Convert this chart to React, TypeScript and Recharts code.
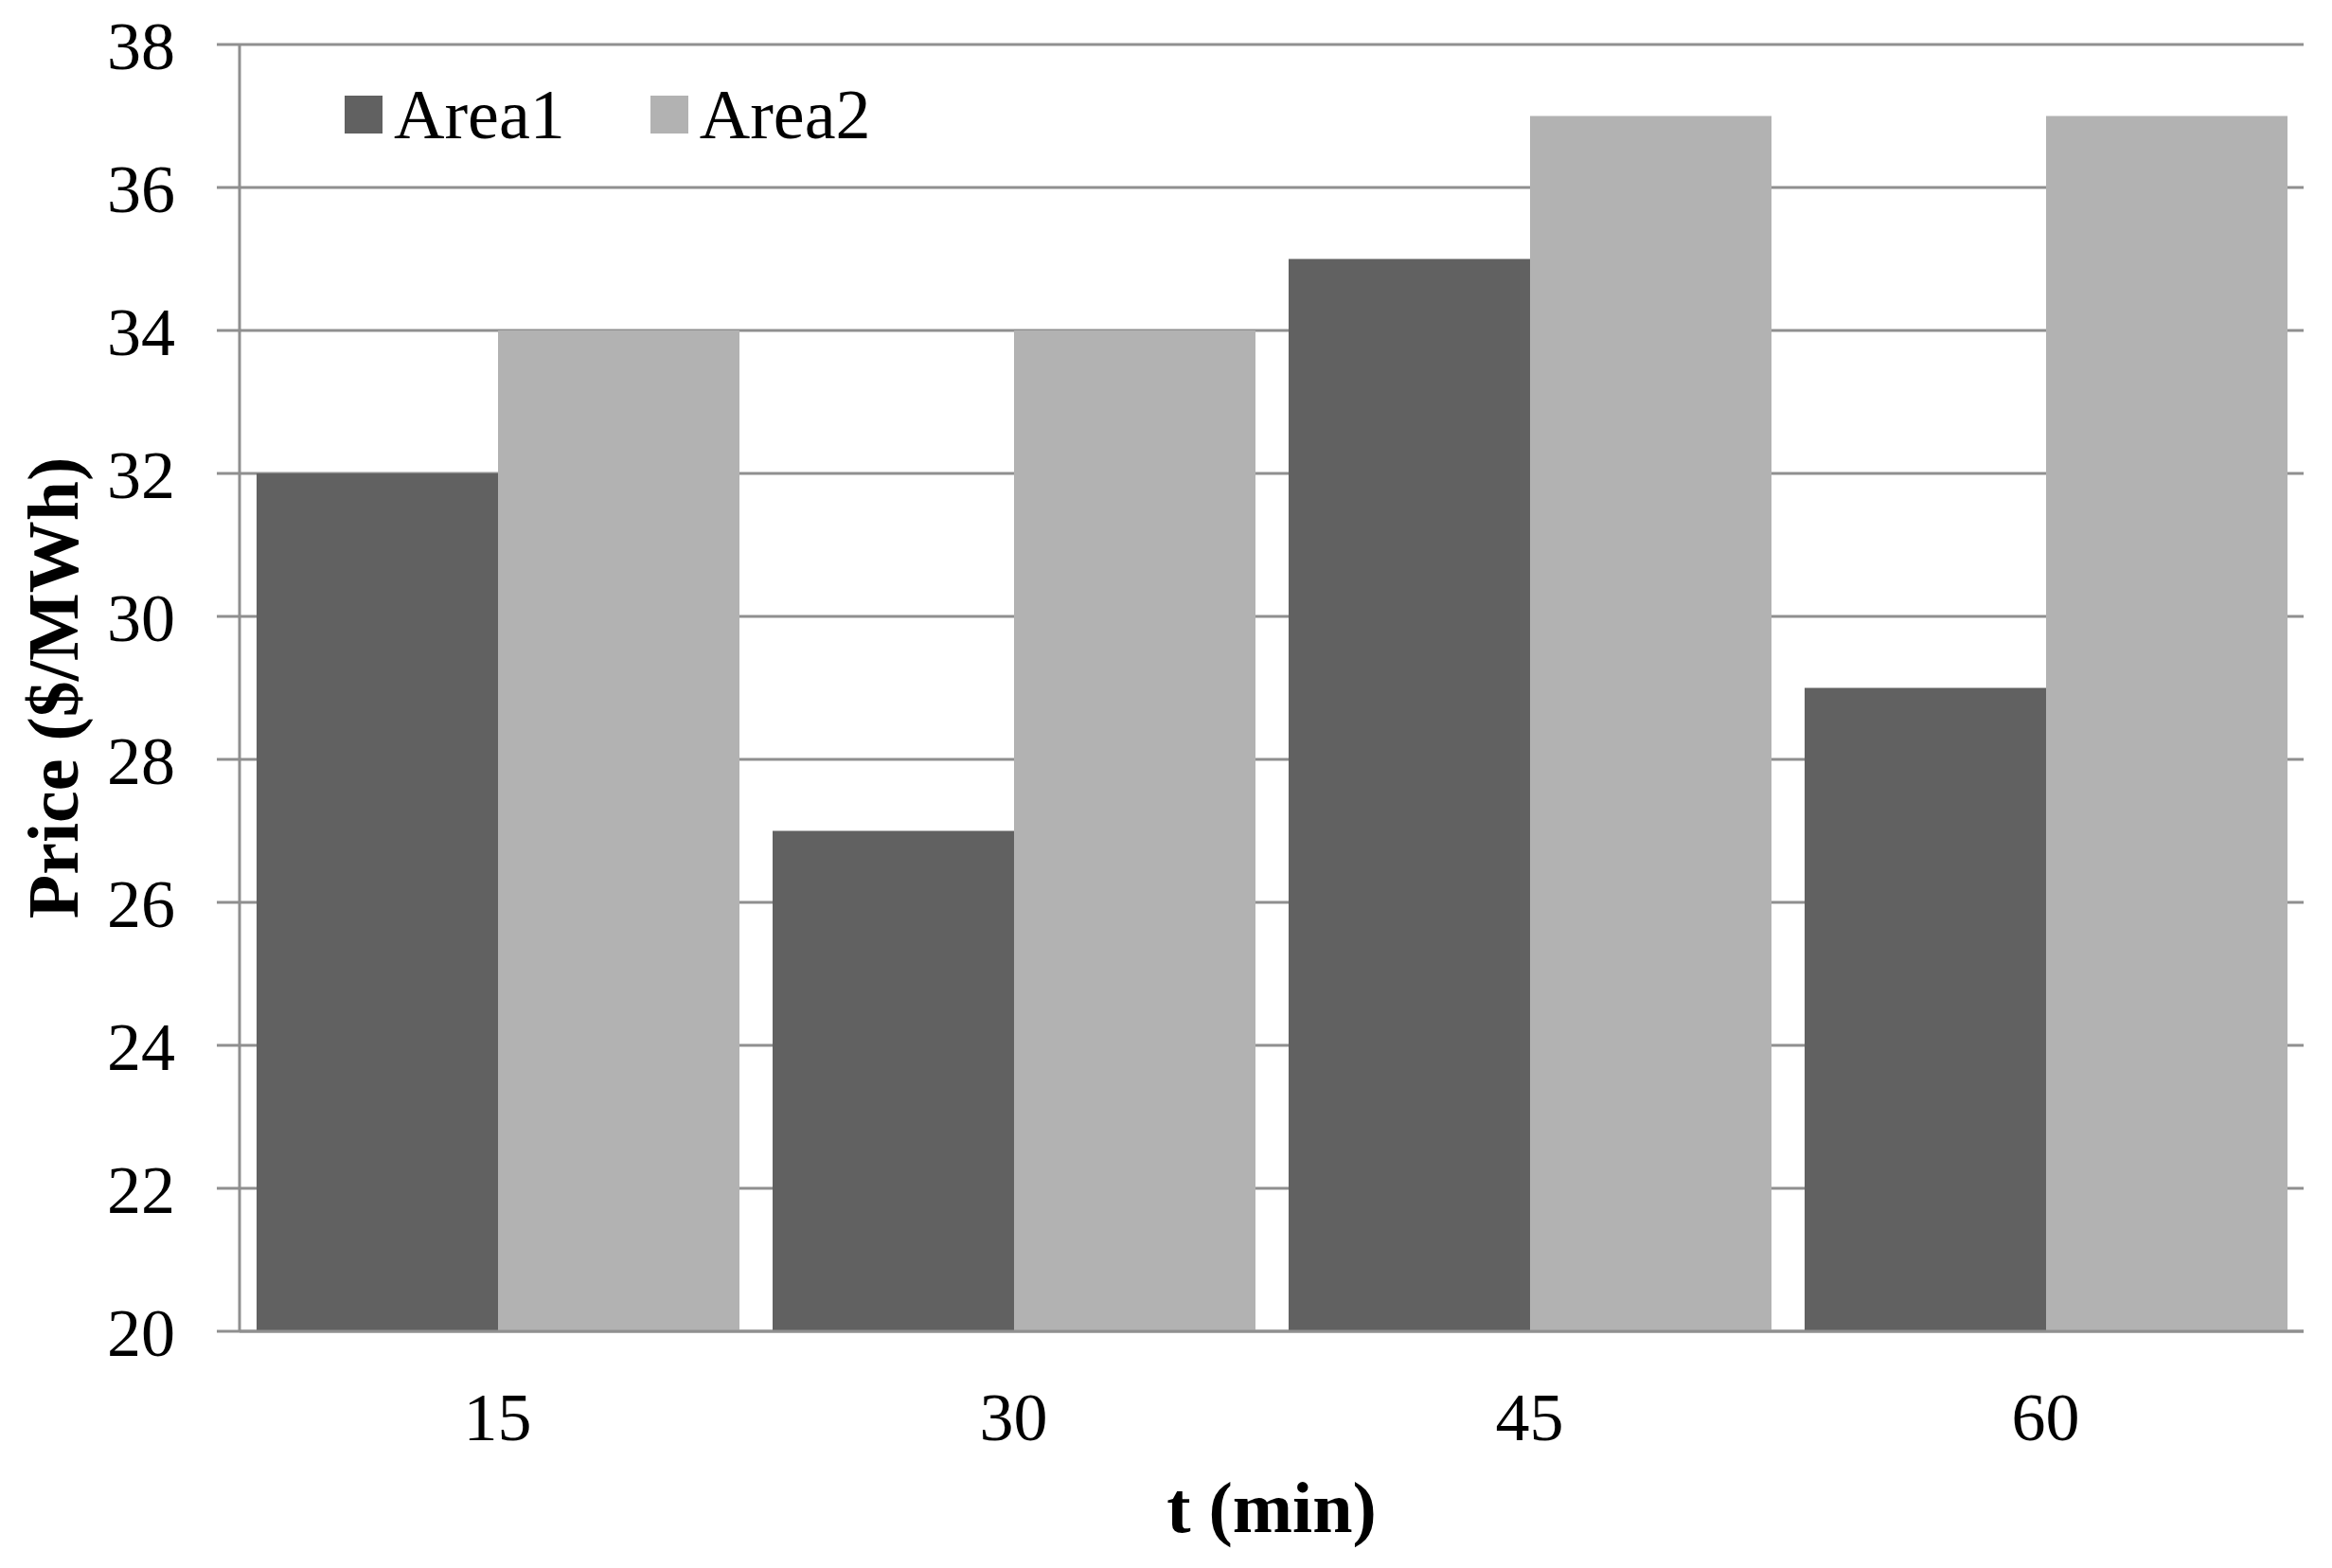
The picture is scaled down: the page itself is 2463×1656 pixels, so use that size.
import { BarChart, Bar, XAxis, YAxis, CartesianGrid, Legend } from 'recharts';

const times = ['15', '30', '45', '60'];
const area1 = [32, 27, 35, 29];
const area2 = [34, 34, 37, 37];
const yTicks = [20, 22, 24, 26, 28, 30, 32, 34, 36, 38];

const data = times.map((t, i) => ({ t, Area1: area1[i], Area2: area2[i] }));

const font = '"Liberation Serif", "Times New Roman", serif';
const gridColor = '#8f8f8f';

function LegendBox(props: any) {
  const { payload } = props;
  return (
    <div style={{ display: 'flex', alignItems: 'center', fontFamily: font, fontSize: 74, color: '#000' }}>
      {(payload || []).map((p: any, i: number) => (
        <div key={p.value} style={{ display: 'flex', alignItems: 'center', marginRight: i === 0 ? 90 : 0 }}>
          <div style={{ width: 40, height: 40, background: p.color, marginRight: 12 }} />
          <span style={{ lineHeight: 1 }}>{p.value}</span>
        </div>
      ))}
    </div>
  );
}

export default function App() {
  return (
    <div style={{ position: 'absolute', left: 0, top: 0, background: '#fff' }}>
      <BarChart
        width={2463}
        height={1656}
        data={data}
        margin={{ top: 47, right: 30, left: 0, bottom: 0 }}
        barCategoryGap={18}
        barGap={0}
      >
        <CartesianGrid vertical={false} stroke={gridColor} strokeWidth={3} />
        <XAxis
          dataKey="t"
          height={250}
          tickLine={false}
          tickSize={0}
          tickMargin={64}
          axisLine={{ stroke: gridColor, strokeWidth: 3 }}
          tick={{ fill: '#000', fontSize: 72, fontFamily: font }}
          label={{
            value: 't (min)',
            position: 'insideBottom',
            offset: 38,
            style: { fill: '#000', fontSize: 76, fontWeight: 'bold', fontFamily: font },
          }}
        />
        <YAxis
          width={253}
          domain={[20, 38]}
          ticks={yTicks}
          interval={0}
          allowDataOverflow
          tickSize={24}
          tickMargin={44}
          tickLine={{ stroke: gridColor, strokeWidth: 3 }}
          axisLine={{ stroke: gridColor, strokeWidth: 3 }}
          tick={{ fill: '#000', fontSize: 72, fontFamily: font }}
          label={{
            value: 'Price ($/MWh)',
            angle: -90,
            position: 'insideLeft',
            offset: 55,
            style: { fill: '#000', fontSize: 76, fontWeight: 'bold', fontFamily: font, textAnchor: 'middle' },
          }}
        />
        <Legend
          verticalAlign="middle"
          align="center"
          layout="horizontal"
          content={<LegendBox />}
          wrapperStyle={{ left: 364, top: 84, width: 'auto' }}
        />
        <Bar dataKey="Area1" fill="#616161" isAnimationActive={false} />
        <Bar dataKey="Area2" fill="#b2b2b2" isAnimationActive={false} />
      </BarChart>
    </div>
  );
}
